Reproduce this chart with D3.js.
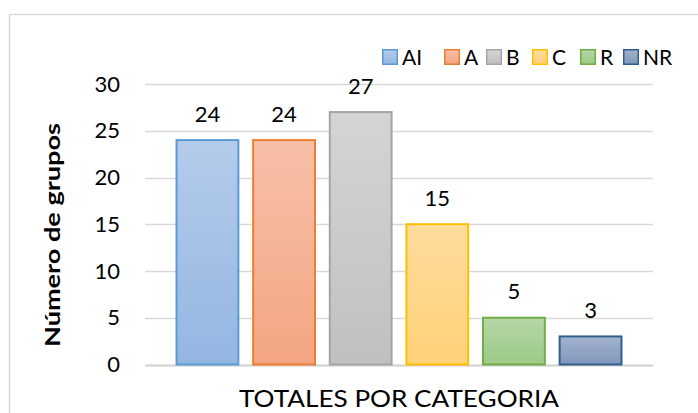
<!DOCTYPE html>
<html><head><meta charset="utf-8">
<script src="https://cdn.jsdelivr.net/npm/d3@7"></script>
<style>
html,body{margin:0;padding:0;background:#fff;}
svg{display:block;font-family:"Lato","Open Sans",sans-serif;}
</style></head>
<body>
<svg id="chart" width="698" height="413"></svg>
<script>
const series = ["AI","A","B","C","R","NR"];
const values = [24,24,27,15,5,3];
const yTicks = [0,5,10,15,20,25,30];
const category = "TOTALES POR CATEGORIA";
const yTitle = "Número de grupos";
const strokes = ["#5b9bd5","#ed7d31","#a5a5a5","#ffc000","#70ad47","#2f5f8f"];
const topFill = ["#b5cceb","#f7c0a8","#d4d4d4","#ffdc9c","#b6d6a6","#a4b3cd"];
const botFill = ["#93b6e1","#f4a583","#c0c0c0","#ffd27a","#9cca86","#7f96bb"];

const svg = d3.select("#chart");
const W = 698, H = 413;
const plot = {l:145, r:653, t:84, b:364.5};

svg.append("rect").attr("x",9.5).attr("y",14.5).attr("width",W).attr("height",H)
  .attr("fill","#fff").attr("stroke","#d9d9d9").attr("stroke-width",1.5);

const defs = svg.append("defs");
series.forEach((s,i)=>{
  const g = defs.append("linearGradient").attr("id","g"+i).attr("x1",0).attr("y1",0).attr("x2",0).attr("y2",1);
  g.append("stop").attr("offset","0%").attr("stop-color",topFill[i]);
  g.append("stop").attr("offset","100%").attr("stop-color",botFill[i]);
});

const y = d3.scaleLinear().domain([0,30]).range([plot.b, plot.t]);
const x = d3.scaleBand().domain(series).range([plot.l, plot.r]).paddingInner(0.18).paddingOuter(0.405);

// gridlines
svg.append("g").selectAll("line").data(yTicks).join("line")
  .attr("x1",plot.l).attr("x2",plot.r)
  .attr("y1",d=>Math.round(y(d))+0.5).attr("y2",d=>Math.round(y(d))+0.5)
  .attr("stroke",d=>d===0?"#d0d0d0":"#d9d9d9").attr("stroke-width",d=>d===0?2:1.5);

// y axis labels
const yAxis = d3.axisLeft(y).tickValues(yTicks).tickSize(0).tickPadding(0);
const ga = svg.append("g").attr("transform",`translate(120,0)`).call(yAxis);
ga.select(".domain").remove();
ga.selectAll("text").attr("font-size",22).attr("fill","#000").attr("font-family","Lato, sans-serif");

// bars
svg.append("g").selectAll("rect").data(values).join("rect")
  .attr("x",(d,i)=>x(series[i])+0.5)
  .attr("y",d=>y(d))
  .attr("width",x.bandwidth()-1)
  .attr("height",d=>y(0)-y(d))
  .attr("fill",(d,i)=>`url(#g${i})`)
  .attr("stroke",(d,i)=>strokes[i]).attr("stroke-width",2);

// value labels
svg.append("g").selectAll("text").data(values).join("text")
  .attr("x",(d,i)=>x(series[i])+x.bandwidth()/2)
  .attr("y",d=>y(d)-18.5)
  .attr("text-anchor","middle").attr("font-size",22).attr("fill","#000")
  .text(d=>d);

// x category label
svg.append("text").attr("x",(plot.l+plot.r)/2).attr("y",406.5)
  .attr("text-anchor","middle").attr("font-size",23).attr("fill","#000")
  .attr("textLength",320).attr("lengthAdjust","spacingAndGlyphs").text(category);

// y title
svg.append("text").attr("transform","translate(60,235) rotate(-90)")
  .attr("text-anchor","middle").attr("font-size",21).attr("font-weight","bold").attr("fill","#000")
  .attr("textLength",224).attr("lengthAdjust","spacingAndGlyphs").text(yTitle);

// legend
const legX = [382,444,486,532,580,623];
const leg = svg.append("g").selectAll("g").data(series).join("g")
  .attr("transform",(d,i)=>`translate(${legX[i]},49)`);
leg.append("rect").attr("x",0.75).attr("y",0.75).attr("width",14.5).attr("height",14.5)
  .attr("fill",(d,i)=>`url(#g${i})`).attr("stroke",(d,i)=>strokes[i]).attr("stroke-width",1.5);
leg.append("text").attr("x",20).attr("y",16).attr("font-size",21).attr("fill","#000").text(d=>d);
</script>
</body></html>
